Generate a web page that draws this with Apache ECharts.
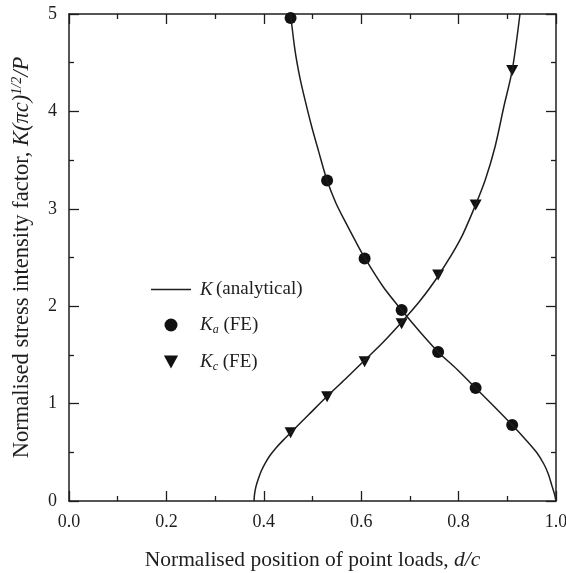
<!DOCTYPE html>
<html>
<head>
<meta charset="utf-8">
<script src="https://cdn.jsdelivr.net/npm/echarts@6/dist/echarts.min.js"></script>
<style>
  html, body { margin: 0; padding: 0; background: #fff; }
  #chart { width: 566px; height: 573px; }
</style>
</head>
<body>
<div id="chart"></div>
<script>
// Analytical K for the load near a (decreasing branch), points [d/c, K]
const kaCurve = [
  [0.455, 5.00], [0.464, 4.63], [0.474, 4.35], [0.485, 4.11], [0.498, 3.85],
  [0.512, 3.60], [0.530, 3.29], [0.548, 3.06], [0.567, 2.87], [0.588, 2.67],
  [0.608, 2.49], [0.645, 2.20], [0.683, 1.96], [0.720, 1.74], [0.758, 1.53],
  [0.797, 1.35], [0.835, 1.16], [0.873, 0.97], [0.910, 0.78], [0.936, 0.64],
  [0.960, 0.50], [0.975, 0.38], [0.984, 0.28], [0.992, 0.15], [0.997, 0.07],
  [1.000, 0.00]
];
// Analytical K for the load near c (increasing branch)
const kcCurve = [
  [0.380, 0.00], [0.381, 0.07], [0.384, 0.15], [0.389, 0.23], [0.395, 0.31],
  [0.403, 0.39], [0.413, 0.47], [0.425, 0.545], [0.439, 0.62], [0.455, 0.70],
  [0.492, 0.885], [0.529, 1.07], [0.567, 1.25], [0.606, 1.44], [0.645, 1.63],
  [0.682, 1.83], [0.720, 2.05], [0.758, 2.31], [0.803, 2.68], [0.834, 3.03],
  [0.855, 3.30], [0.875, 3.64], [0.893, 4.05], [0.910, 4.42], [0.926, 5.00]
];
// Finite element results
const feX = [0.455, 0.530, 0.607, 0.683, 0.758, 0.835, 0.910];
const kaFE = [4.96, 3.29, 2.49, 1.96, 1.53, 1.16, 0.78];
const kcFE = [0.70, 1.07, 1.43, 1.82, 2.32, 3.04, 4.42];

const xTicks = { min: 0, max: 1, interval: 0.2 };
const yTicks = { min: 0, max: 5, interval: 1 };

const ink = '#1e1e1e';
const serif = 'Liberation Serif, Times New Roman, serif';
const downTri = 'path://M0,0 L12,0 L6,11 Z';
const lineIcon = 'path://M0,0 L40,0 L40,1.5 L0,1.5 Z';

function axisBase(ticks, pos, showLabels, fmt) {
  return {
    type: 'value', position: pos,
    min: ticks.min, max: ticks.max, interval: ticks.interval,
    axisLine: { show: true, onZero: false, lineStyle: { color: ink, width: 1.5 } },
    axisTick: { show: true, inside: true, length: 10, lineStyle: { color: ink, width: 1.3 } },
    minorTick: { show: true, splitNumber: 2, length: 5, lineStyle: { color: ink, width: 1.3 } },
    splitLine: { show: false },
    minorSplitLine: { show: false },
    axisLabel: {
      show: showLabels, color: ink, fontFamily: serif, fontSize: 18, margin: 12,
      formatter: fmt
    }
  };
}

function nameRich(size) {
  return {
    n: { fontFamily: serif, fontSize: size, color: ink },
    i: { fontFamily: serif, fontSize: size, fontStyle: 'italic', color: ink },
    sup: { fontFamily: serif, fontSize: Math.round(size * 0.62), fontStyle: 'italic', color: ink,
           verticalAlign: 'top', padding: [0, 0, 10, 0] }
  };
}

const legendRich = {
  i: { fontFamily: serif, fontSize: 19, fontStyle: 'italic', color: ink, lineHeight: 22 },
  n: { fontFamily: serif, fontSize: 19, color: ink, lineHeight: 22 },
  sub: { fontFamily: serif, fontSize: 12, fontStyle: 'italic', color: ink, lineHeight: 22, padding: [10, 0, 0, 0] }
};
const legendText = {
  'K': '{i|K} {n|(analytical)}',
  'Ka': '{i|K}{sub|a}{n| (FE)}',
  'Kc': '{i|K}{sub|c}{n| (FE)}'
};

const chart = echarts.init(document.getElementById('chart'), null, { renderer: 'canvas' });
chart.setOption({
  animation: false,
  backgroundColor: '#fff',
  grid: { left: 69, right: 10, top: 14, bottom: 72, containLabel: false, outerBoundsMode: 'none' },
  xAxis: [
    Object.assign(axisBase(xTicks, 'bottom', true, v => v.toFixed(1)), {
      name: '{n|Normalised position of point loads, }{i|d/c}',
      nameLocation: 'middle', nameGap: 48,
      nameTextStyle: { rich: nameRich(21.5) }
    }),
    axisBase(xTicks, 'top', false)
  ],
  yAxis: [
    Object.assign(axisBase(yTicks, 'left', true, v => String(v)), {
      name: '{n|Normalised stress intensity factor, }{i|K(πc)}{sup|1/2}{i|/P}',
      nameLocation: 'middle', nameGap: 35, nameRotate: 90,
      nameTextStyle: { rich: nameRich(22.5) }
    }),
    axisBase(yTicks, 'right', false)
  ],
  legend: {
    orient: 'vertical', left: 146, top: 275,
    itemWidth: 40, itemHeight: 13, itemGap: 15,
    data: [
      { name: 'K', icon: lineIcon },
      { name: 'Ka', icon: 'circle' },
      { name: 'Kc', icon: downTri }
    ],
    formatter: name => legendText[name],
    textStyle: { rich: legendRich, padding: [0, 0, 0, 4] }
  },
  series: [
    {
      name: 'K', type: 'line', data: kaCurve, smooth: 0.3, symbol: 'none',
      lineStyle: { color: ink, width: 1.5 }, itemStyle: { color: ink }, clip: true
    },
    {
      name: 'K', type: 'line', data: kcCurve, smooth: 0.3, symbol: 'none',
      lineStyle: { color: ink, width: 1.5 }, itemStyle: { color: ink }, clip: true
    },
    {
      name: 'Ka', type: 'scatter', symbol: 'circle', symbolSize: 12,
      data: feX.map((x, k) => [x, kaFE[k]]),
      itemStyle: { color: '#111', opacity: 1 }, clip: false
    },
    {
      name: 'Kc', type: 'scatter', symbol: downTri, symbolSize: [12, 11],
      data: feX.map((x, k) => [x, kcFE[k]]),
      itemStyle: { color: '#111', opacity: 1 }, clip: false
    }
  ]
});
</script>
</body>
</html>
